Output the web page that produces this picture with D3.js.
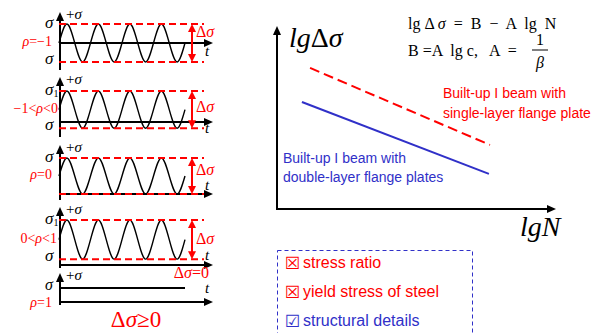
<!DOCTYPE html>
<html>
<head>
<meta charset="utf-8">
<script src="https://d3js.org/d3.v7.min.js"></script>
<style>
  body { margin: 0; background: #fff; }
  .serif { font-family: "Liberation Serif", "Times New Roman", serif; }
  .sans { font-family: "Liberation Sans", Arial, sans-serif; }
</style>
</head>
<body>
<script>
// ---- data ----
const rhoLabels = ["ρ=−1", "−1<ρ<0", "ρ=0", "0<ρ<1", "ρ=1"];
const sigmaMax = [1, 1, 1, 1, 1];
const sigmaMin = [-1, -0.2, 0, 0.13, 1];
const topLabels = ["σ", "σ1", "σ", "σ1", "σ"];
const bottomLabels = ["σ", "σ", "", "σ", ""];
// normalised wave, one value per quarter period (1 = max, -1 = min)
const waveShape = [0, 1, 0, -1, 0, 1, 0, -1, 0, 1, 0, -1, 0, 1, 0, -1, 0];

const seriesNames = ["Built-up I beam with single-layer flange plate",
                     "Built-up I beam with double-layer flange plates"];
const lgN = [[1.22, 7.86], [0.92, 7.82]];
const lgDS = [[7.88, 3.58], [5.98, 1.96]];

const factors = ["stress ratio", "yield stress of steel", "structural details"];
const factorMark = ["☒", "☒", "☑"];

// ---- layout ----
const red = "#ff0000", blue = "#3030c8";
const axisY = [43, 122, 194, 265, 302];
const maxY = [24, 91, 158, 220, 288];
const tipY = [12, 77, 145, 207, 273];
const botY = [70, 137, 200, 268, 305];
const tY = [53, 130, 187, 257, 290];
const dLabelY = [33, 108, 171, 240];
const rhoX = [52, 58, 52, 57, 52];
const axX = 60;

const svg = d3.select("body").append("svg")
  .attr("width", 609).attr("height", 333);

// text with italic greek letters
function rich(sel, str) {
  [...str].forEach(ch => {
    const t = sel.append("tspan").text(ch);
    if (ch === "σ" || ch === "ρ" || ch === "β") t.attr("font-style", "italic");
  });
  return sel;
}

function arrowUp(g, x, y, col) {
  g.append("path").attr("d", `M${x},${y} L${x - 4},${y + 9} L${x + 4},${y + 9} Z`).attr("fill", col);
}
function arrowRight(g, x, y, col) {
  g.append("path").attr("d", `M${x},${y} L${x - 9},${y - 4} L${x - 9},${y + 4} Z`).attr("fill", col);
}

const tx = d3.scaleLinear().domain([0, waveShape.length - 1]).range([59, 185]);

rhoLabels.forEach((lab, i) => {
  const g = svg.append("g");
  const y = d3.scaleLinear().domain([0, sigmaMax[i]]).range([axisY[i], maxY[i]]);
  const mid = (sigmaMax[i] + sigmaMin[i]) / 2, amp = (sigmaMax[i] - sigmaMin[i]) / 2;

  // axes
  g.append("line").attr("x1", axX).attr("x2", axX).attr("y1", botY[i]).attr("y2", tipY[i] + 5)
    .attr("stroke", "#000").attr("stroke-width", 2);
  arrowUp(g, axX, tipY[i], "#000");
  g.append("line").attr("x1", axX).attr("x2", 206).attr("y1", axisY[i]).attr("y2", axisY[i])
    .attr("stroke", "#000").attr("stroke-width", 2);
  arrowRight(g, 213, axisY[i], "#000");

  // wave
  const line = d3.line().x((d, j) => tx(j)).y(d => y(mid + d * amp)).curve(d3.curveNatural);
  g.append("path").attr("d", line(waveShape)).attr("fill", "none")
    .attr("stroke", "#000").attr("stroke-width", amp === 0 ? 2 : 1.4);

  // dashed limits and range arrow
  if (amp > 0) {
    [sigmaMax[i], sigmaMin[i]].forEach(v => {
      g.append("line").attr("x1", 59).attr("x2", 204).attr("y1", y(v)).attr("y2", y(v))
        .attr("stroke", red).attr("stroke-width", 2).attr("stroke-dasharray", "7,4");
    });
    const ax = 192, y1 = y(sigmaMax[i]), y2 = y(sigmaMin[i]);
    g.append("line").attr("x1", ax).attr("x2", ax).attr("y1", y1 + 6).attr("y2", y2 - 6)
      .attr("stroke", red).attr("stroke-width", 2);
    g.append("path").attr("d", `M${ax},${y1} L${ax - 4},${y1 + 8} L${ax + 4},${y1 + 8} Z`).attr("fill", red);
    g.append("path").attr("d", `M${ax},${y2} L${ax - 4},${y2 - 8} L${ax + 4},${y2 - 8} Z`).attr("fill", red);
    rich(g.append("text").attr("class", "serif").attr("x", 196).attr("y", dLabelY[i])
      .attr("dominant-baseline", "middle").attr("font-size", 16).attr("fill", red), "Δσ");
  }

  // labels
  rich(g.append("text").attr("class", "serif").attr("x", 66).attr("y", tipY[i] + 4)
    .attr("dominant-baseline", "middle").attr("font-size", 15), "+σ");
  g.append("text").attr("class", "serif").attr("x", 205).attr("y", tY[i])
    .attr("dominant-baseline", "middle").attr("font-size", 15).attr("font-style", "italic").text("t");
  rich(g.append("text").attr("class", "serif").attr("x", rhoX[i])
    .attr("y", i === 4 ? axisY[i] + 2 : (maxY[i] + y(sigmaMin[i])) / 2)
    .attr("text-anchor", "end").attr("dominant-baseline", "middle")
    .attr("font-size", 14).attr("fill", red), lab);

  const tl = g.append("text").attr("class", "serif").attr("x", 45)
    .attr("y", i === 4 ? maxY[i] - 2 : maxY[i])
    .attr("dominant-baseline", "middle").attr("font-size", i === 4 ? 16 : 17);
  tl.append("tspan").attr("font-style", "italic").text("σ");
  if (topLabels[i].length > 1) tl.append("tspan").attr("font-size", 10).attr("dy", 4).text("1");
  if (bottomLabels[i]) {
    g.append("text").attr("class", "serif").attr("x", 45).attr("y", y(sigmaMin[i]) - 2)
      .attr("dominant-baseline", "middle").attr("font-size", 17).attr("font-style", "italic")
      .text(bottomLabels[i]);
  }
});

rich(svg.append("text").attr("class", "serif").attr("x", 209).attr("y", 274)
  .attr("text-anchor", "end").attr("dominant-baseline", "middle")
  .attr("font-size", 16).attr("fill", red), "Δσ=0");
rich(svg.append("text").attr("class", "serif").attr("x", 136).attr("y", 322)
  .attr("text-anchor", "middle").attr("dominant-baseline", "middle")
  .attr("font-size", 23).attr("fill", red), "Δσ≥0");

// ---- right S-N diagram ----
const x = d3.scaleLinear().domain([0, 10]).range([277, 548]);
const yR = d3.scaleLinear().domain([0, 10]).range([209, 30]);

svg.append("line").attr("x1", 277).attr("x2", 277).attr("y1", 210).attr("y2", 33)
  .attr("stroke", "#000").attr("stroke-width", 2);
arrowUp(svg, 277, 26, "#000");
svg.append("line").attr("x1", 276).attr("x2", 548).attr("y1", 209).attr("y2", 209)
  .attr("stroke", "#000").attr("stroke-width", 2);
arrowRight(svg, 556, 209, "#000");

const cols = [red, blue];
seriesNames.forEach((s, i) => {
  const pts = lgN[i].map((n, j) => [x(n), yR(lgDS[i][j])]);
  svg.append("path").attr("d", d3.line()(pts)).attr("fill", "none")
    .attr("stroke", cols[i]).attr("stroke-width", 2)
    .attr("stroke-dasharray", i === 0 ? "10,5" : null);
});

const lab1 = svg.append("text").attr("class", "sans").attr("font-size", 14).attr("fill", red);
lab1.append("tspan").attr("x", 443).attr("y", 98).text("Built-up I beam with");
lab1.append("tspan").attr("x", 443).attr("y", 118).text("single-layer flange plate");
const lab2 = svg.append("text").attr("class", "sans").attr("font-size", 14).attr("fill", blue);
lab2.append("tspan").attr("x", 283).attr("y", 163).text("Built-up I beam with");
lab2.append("tspan").attr("x", 283).attr("y", 182).text("double-layer flange plates");

const yl = svg.append("text").attr("class", "serif").attr("x", 289).attr("y", 47).attr("font-size", 28);
yl.append("tspan").attr("font-style", "italic").text("lg");
yl.append("tspan").text("Δ");
yl.append("tspan").attr("font-style", "italic").text("σ");
svg.append("text").attr("class", "serif").attr("x", 520).attr("y", 236)
  .attr("font-size", 28).attr("font-style", "italic").text("lgN");

rich(svg.append("text").attr("class", "serif").attr("x", 408).attr("y", 29)
  .attr("font-size", 16).attr("xml:space", "preserve"), "lg Δ σ  =  B  −  A  lg  N");
svg.append("text").attr("class", "serif").attr("x", 408).attr("y", 56)
  .attr("font-size", 16).attr("xml:space", "preserve").text("B =A  lg c,   A  = ");
svg.append("text").attr("class", "serif").attr("x", 540).attr("y", 45)
  .attr("text-anchor", "middle").attr("font-size", 16).text("1");
svg.append("line").attr("x1", 532).attr("x2", 548).attr("y1", 50).attr("y2", 50)
  .attr("stroke", "#000").attr("stroke-width", 1);
svg.append("text").attr("class", "serif").attr("x", 540).attr("y", 68)
  .attr("text-anchor", "middle").attr("font-size", 16).attr("font-style", "italic").text("β");

// ---- factor box ----
svg.append("rect").attr("x", 277.5).attr("y", 250.5).attr("width", 195).attr("height", 100)
  .attr("fill", "none").attr("stroke", blue).attr("stroke-width", 1).attr("stroke-dasharray", "4,3");
factors.forEach((f, i) => {
  const c = i < 2 ? red : blue, yy = 268 + i * 29;
  svg.append("text").attr("x", 285).attr("y", yy + 1).attr("font-family", "DejaVu Sans")
    .attr("font-size", 17).attr("fill", c).text(factorMark[i]);
  svg.append("text").attr("class", "sans").attr("x", 303).attr("y", yy)
    .attr("font-size", 16).attr("fill", c).text(f);
});
</script>
</body>
</html>
